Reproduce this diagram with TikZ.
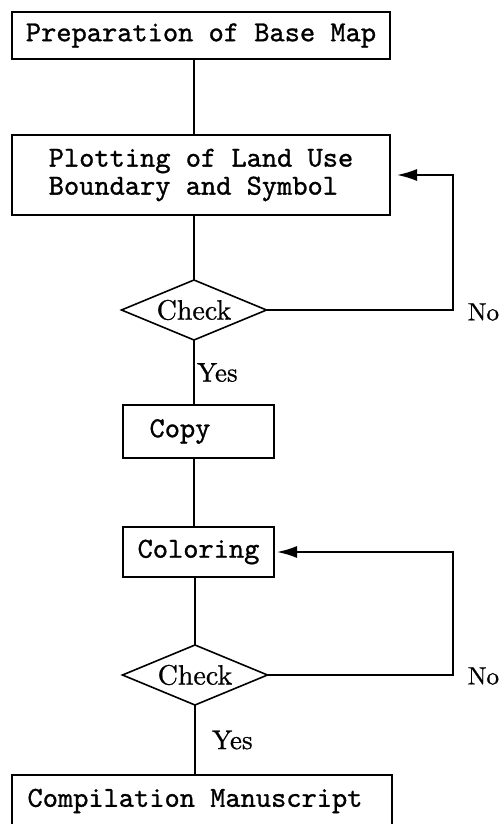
\documentclass[tikz,border=0pt]{standalone}
\usepackage{fontspec}
\setmainfont{lmroman10-regular.otf}[FakeBold=0.8]
\setmonofont{lmmono10-regular.otf}[FakeBold=1.0]
\usetikzlibrary{shapes.geometric,arrows.meta}
\begin{document}
\begin{tikzpicture}[x=1pt,y=-1pt,
  every node/.style={inner sep=0pt, outer sep=0pt},
  procbox/.style={draw, line width=1.6pt, rectangle, font=\fontsize{29}{29}\ttfamily, align=left},
  decision/.style={draw, line width=1.6pt, diamond, aspect=2.4, minimum width=145pt, minimum height=60pt, font=\fontsize{28}{28}\selectfont},
  flowline/.style={line width=1.8pt},
  loopline/.style={line width=1.8pt, -{Latex[length=20pt,width=12pt]}},
  lbl/.style={font=\fontsize{27}{27}\selectfont},
  nolbl/.style={font=\fontsize{25}{25}\selectfont}
]
\useasboundingbox (0,0) rectangle (501,824);
\node[procbox, minimum width=378pt, minimum height=47pt] (base) at (201,35.5) {Preparation of Base Map};
\node[procbox, minimum width=378pt, minimum height=80pt] (plot) at (201,175) {\fontsize{29}{29}\selectfont Plotting of Land Use\\[-1pt]Boundary and Symbol};
\node[decision] (chk1) at (194,310) {Check};
\node[procbox, minimum width=151pt, minimum height=53pt] (copy) at (198.5,431.5) {Copy\hspace*{37pt}};
\node[procbox, minimum width=151pt, minimum height=50pt] (color) at (198.5,552) {Coloring};
\node[decision] (chk2) at (195,675) {Check};
\node[procbox, minimum width=380pt, minimum height=52pt] (comp) at (202,801) {Compilation Manuscript\hspace*{14pt}};
\coordinate (r1) at (453,310);
\coordinate (r2) at (453,675);
\draw[flowline] (base.south -| chk1.north) -- (chk1.north |- plot.north);
\draw[flowline] (plot.south -| chk1.north) -- (chk1.north);
\draw[flowline] (chk1.south) -- (copy.north -| chk1.south) node[lbl, pos=0.5, anchor=west, xshift=3pt] {Yes};
\draw[flowline] (copy.south -| chk1.south) -- (color.north -| chk1.south);
\draw[flowline] (color.south -| chk2.north) -- (chk2.north);
\draw[flowline] (chk2.south) -- (comp.north -| chk2.south) node[lbl, pos=0.5, anchor=west, xshift=17pt] {Yes};
\draw[loopline, shorten >=7pt] (chk1.east) -- (r1) -- (r1 |- plot.east) -- (plot.east);
\draw[loopline, shorten >=3pt] (chk2.east) -- (r2) -- (r2 |- color.east) -- (color.east);
\node[nolbl, anchor=east] (no1) at (499,312) {No};
\node[nolbl, anchor=east] (no2) at (499,676) {No};
\end{tikzpicture}
\end{document}
